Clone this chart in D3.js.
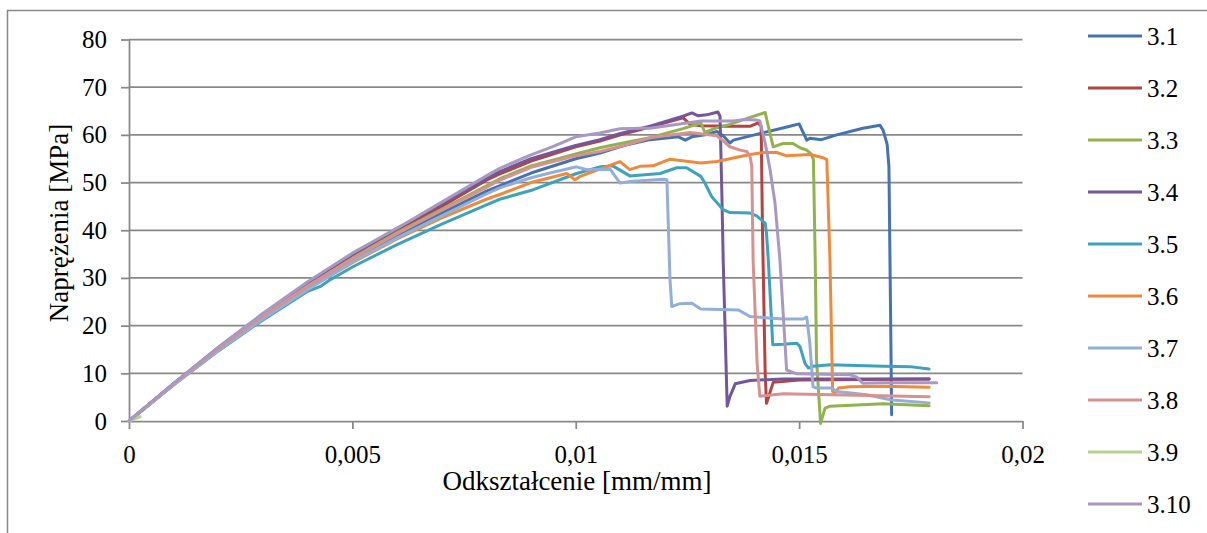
<!DOCTYPE html>
<html><head><meta charset="utf-8">
<script src="https://cdn.jsdelivr.net/npm/d3@7"></script>
<style>body{margin:0;background:#fff}svg{display:block}text{font-family:"Liberation Serif","Times New Roman",Times,serif;fill:#000}</style>
</head><body>
<svg id="c" width="1207" height="533"></svg>
<script>
const seriesNames = ["3.1","3.2","3.3","3.4","3.5","3.6","3.7","3.8","3.9","3.10"];
const seriesColors = ["#4572B0","#B5433F","#91B24F","#74579A","#3FA2BD","#EE8A3D","#93AFD8","#D7918F","#B9D094","#A899C2"];
const xTicks = [0, 0.005, 0.01, 0.015, 0.02];
const xTickLabels = ["0","0,005","0,01","0,015","0,02"];
const yTicks = [0,10,20,30,40,50,60,70,80];
const xTitle = "Odkształcenie [mm/mm]";
const yTitle = "Naprężenia [MPa]";

const s31 = [[0,0],[0.001,7.7],[0.002,15],[0.003,21.8],[0.004,28],[0.005,33.6],[0.006,38.8],[0.007,43.6],[0.008,48.2],[0.009,52],[0.010,55],[0.01054,56.2],[0.0111,57.8],[0.01166,59],[0.0123,59.6],[0.01245,58.9],[0.0126,59.6],[0.0129,60],[0.01316,60.7],[0.0133,59.8],[0.01345,58.3],[0.01353,58.9],[0.0140,60],[0.01475,61.7],[0.0150,62.3],[0.01517,58.9],[0.01524,59.3],[0.0155,59],[0.01584,60],[0.01643,61.4],[0.01681,62],[0.01688,61],[0.01697,58],[0.01701,53.3],[0.01705,20],[0.01707,1.3]];
const s32 = [[0,0],[0.001,7.8],[0.002,15.3],[0.003,22.3],[0.004,28.8],[0.005,34.6],[0.006,40],[0.007,45],[0.008,50.5],[0.0083,51.8],[0.009,54.5],[0.010,57.5],[0.01054,58.7],[0.011,60],[0.0116,61.5],[0.0124,63.6],[0.01256,62.2],[0.0128,61.9],[0.0134,61.8],[0.0139,61.8],[0.01408,62.5],[0.01415,61.8],[0.01418,40],[0.01424,10],[0.01427,3.7],[0.01442,8.1],[0.0150,8.6],[0.01791,8.8]];
const s33 = [[0,0],[0.001,7.8],[0.002,15.2],[0.003,22],[0.004,28.4],[0.005,34.2],[0.006,39.5],[0.007,44.4],[0.008,49.3],[0.0083,50.8],[0.009,53.5],[0.010,56],[0.01054,57.3],[0.011,58.2],[0.01166,59.4],[0.0124,61.3],[0.0128,62.5],[0.01289,60.5],[0.0131,61.3],[0.01345,62.2],[0.01375,63.2],[0.01424,64.7],[0.01431,61.8],[0.01442,57.5],[0.01464,58.2],[0.01486,58.2],[0.01502,57.3],[0.01517,56.8],[0.01528,55.9],[0.01532,54.8],[0.01536,33.8],[0.01539,12.8],[0.01548,-0.5],[0.01558,2.7],[0.01569,3.1],[0.01688,3.6],[0.01791,3.2]];
const s34 = [[0,0],[0.001,7.9],[0.002,15.4],[0.003,22.4],[0.004,29],[0.005,34.9],[0.006,40.4],[0.007,45.5],[0.008,50.8],[0.0083,52.3],[0.009,55],[0.010,57.8],[0.01054,59],[0.011,60.3],[0.01166,61.8],[0.0124,63.9],[0.0126,64.6],[0.01274,64],[0.01293,64.2],[0.01318,64.8],[0.01323,63.9],[0.01327,47.9],[0.0133,33.8],[0.01339,3.1],[0.01345,5.1],[0.01357,7.8],[0.0139,8.5],[0.01464,8.8],[0.01791,8.8]];
const s35 = [[0,0],[0.001,7.6],[0.002,14.7],[0.003,21.2],[0.004,27.2],[0.0043,28.3],[0.0045,29.6],[0.005,32.3],[0.006,37],[0.007,41.3],[0.008,45.3],[0.0083,46.5],[0.00905,48.5],[0.01002,51.9],[0.01054,53.3],[0.01083,53.5],[0.01121,51.4],[0.01189,51.9],[0.01226,53.1],[0.01248,53.1],[0.0128,51.3],[0.01289,49.9],[0.01304,47.1],[0.0133,44.3],[0.01345,43.7],[0.0139,43.6],[0.01405,43],[0.01424,41.5],[0.01427,39.4],[0.01431,33.8],[0.01441,16],[0.01465,16.1],[0.01495,16.3],[0.01502,15.6],[0.01513,12.1],[0.01521,11.1],[0.01532,11.5],[0.01569,11.8],[0.01688,11.5],[0.01748,11.4],[0.01791,10.9]];
const s36 = [[0,0],[0.001,7.6],[0.002,14.8],[0.003,21.5],[0.004,27.7],[0.005,33.2],[0.006,38.2],[0.007,42.6],[0.008,46.5],[0.0083,47.5],[0.009,50],[0.0098,51.9],[0.00998,50.6],[0.0101,51.3],[0.01099,54.4],[0.01121,52.7],[0.01144,53.4],[0.01173,53.5],[0.01211,54.9],[0.0128,54.1],[0.01316,54.4],[0.0139,55.9],[0.0142,56.3],[0.0145,56.3],[0.01472,55.6],[0.01524,55.9],[0.01554,55.2],[0.01562,54.8],[0.01569,33.8],[0.01575,6.2],[0.0158,5.9],[0.01588,6.9],[0.01614,7.2],[0.01688,7.3],[0.01791,7.1]];
const s37 = [[0,0],[0.001,7.6],[0.002,14.8],[0.003,21.4],[0.004,27.5],[0.005,33.4],[0.006,38.4],[0.007,43],[0.008,47.6],[0.0083,48.9],[0.009,51],[0.00942,52],[0.01002,53.3],[0.01025,52.7],[0.01077,52.8],[0.01099,49.9],[0.01128,50.3],[0.01195,50.7],[0.01204,50.6],[0.01211,29.6],[0.01215,24],[0.01233,24.6],[0.0126,24.7],[0.0128,23.5],[0.01364,23.3],[0.0139,21.9],[0.01464,21.4],[0.01509,21.4],[0.01517,21.8],[0.01524,16.3],[0.01531,7.2],[0.01539,6.9],[0.01573,6.9],[0.01584,6.2],[0.01651,5.5],[0.01707,4.4],[0.01791,3.8]];
const s38 = [[0,0],[0.001,7.8],[0.002,15.2],[0.003,22],[0.004,28.3],[0.005,34],[0.006,39.3],[0.007,44.2],[0.008,49],[0.0083,50.5],[0.009,53.2],[0.010,55.6],[0.01054,56.5],[0.0111,57.8],[0.01166,59.4],[0.01256,60.5],[0.01316,59.8],[0.01327,59],[0.01345,57.5],[0.01368,56.8],[0.01383,56.5],[0.0139,55.5],[0.01394,53.4],[0.01397,33.8],[0.01406,12],[0.01412,5.2],[0.01465,5.7],[0.01791,5.1]];
const s39 = [[0,0],[0.00025,0.9]];
const s310 = [[0,0],[0.001,7.9],[0.002,15.5],[0.003,22.6],[0.004,29.2],[0.005,35.2],[0.00607,40.8],[0.007,45.9],[0.008,51.4],[0.0083,53],[0.009,55.8],[0.0095,57.6],[0.010,59.6],[0.01054,60.4],[0.01099,61.3],[0.01144,61.4],[0.01166,61.4],[0.01241,62.4],[0.0128,62.9],[0.01353,62.9],[0.01375,63.2],[0.01405,63.1],[0.01412,62.9],[0.01424,58.3],[0.01435,52.7],[0.01446,45.7],[0.01457,33.8],[0.01472,10.7],[0.01495,9.9],[0.01614,9.7],[0.01629,9.2],[0.01643,7.9],[0.01688,8],[0.01808,8]];
const seriesData = [s31,s32,s33,s34,s35,s36,s37,s38,s39,s310];

const svg = d3.select("#c");
const FS = 25, TFS = 27;
const FONT = '"Liberation Serif","Times New Roman",Times,serif';
const x = d3.scaleLinear().domain([0,0.02]).range([129,1022.5]);
const y = d3.scaleLinear().domain([0,80]).range([421,39.5]);
const gray = "#888888";

svg.append("rect").attr("x",7.5).attr("y",10.5).attr("width",1300).attr("height",600)
  .attr("fill","none").attr("stroke",gray).attr("stroke-width",1.5);

svg.append("g").selectAll("line").data(yTicks.filter(d=>d>0)).join("line")
  .attr("x1",x(0)).attr("x2",x(0.02)).attr("y1",d=>y(d)).attr("y2",d=>y(d))
  .attr("stroke",gray).attr("stroke-width",1.75);

const gx = svg.append("g").attr("transform",`translate(0,${y(0)})`)
  .call(d3.axisBottom(x).tickValues(xTicks).tickFormat((d,i)=>xTickLabels[i]).tickSize(8).tickSizeOuter(0).tickPadding(16));
const gy = svg.append("g").attr("transform",`translate(${x(0)},0)`)
  .call(d3.axisLeft(y).tickValues(yTicks).tickFormat(d=>String(d)).tickSize(8).tickSizeOuter(0).tickPadding(14));
[gx,gy].forEach(g=>{
  g.attr("font-family",FONT).attr("font-size",FS);
  g.selectAll("path.domain").attr("stroke",gray).attr("stroke-width",1.75);
  g.selectAll(".tick line").attr("stroke",gray).attr("stroke-width",1.75);
  g.selectAll(".tick text").attr("font-family",FONT).attr("font-size",FS).attr("fill","#000");
});

const line = d3.line().x(d=>x(d[0])).y(d=>y(d[1])).curve(d3.curveLinear);
svg.append("g").selectAll("path").data(seriesData).join("path")
  .attr("d",line).attr("fill","none")
  .attr("stroke",(d,i)=>seriesColors[i]).attr("stroke-width",3)
  .attr("stroke-linejoin","round").attr("stroke-linecap","round");

svg.append("text").attr("x",577).attr("y",490).attr("text-anchor","middle")
  .attr("font-family",FONT).attr("font-size",TFS).text(xTitle);
svg.append("text").attr("transform","translate(68,223) rotate(-90)").attr("text-anchor","middle")
  .attr("font-family",FONT).attr("font-size",TFS).text(yTitle);

const lg = svg.append("g").selectAll("g").data(seriesNames).join("g")
  .attr("transform",(d,i)=>`translate(0,${36+i*52})`);
lg.append("line").attr("x1",1088).attr("x2",1142).attr("y1",0).attr("y2",0)
  .attr("stroke",(d,i)=>seriesColors[i]).attr("stroke-width",3);
lg.append("text").attr("x",1147).attr("y",0).attr("dy","0.35em")
  .attr("font-family",FONT).attr("font-size",FS).text(d=>d);
</script>
</body></html>
